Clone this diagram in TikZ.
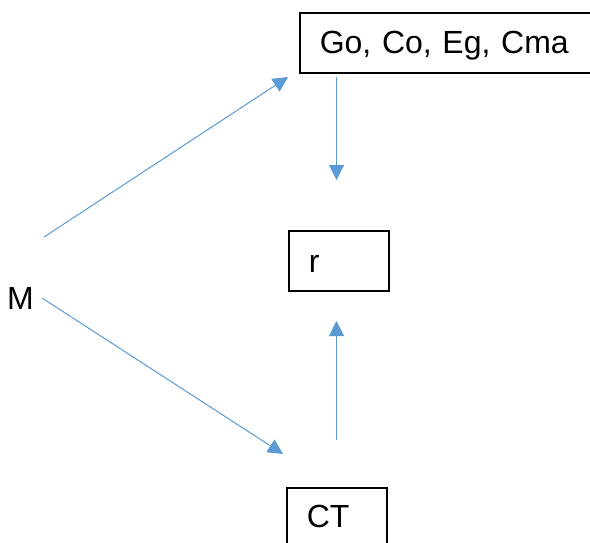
\documentclass[tikz,border=0pt]{standalone}
\usepackage{fontspec}
\setmainfont{Liberation Sans}
\usetikzlibrary{arrows.meta}
\definecolor{lineblue}{HTML}{5B9BD5}
\tikzset{
  box/.style={draw, line width=1.6pt, anchor=north west, inner xsep=20pt, inner ysep=0pt,
    align=left, minimum height=60pt, font=\fontsize{32}{38}\selectfont},
  label/.style={anchor=base west, inner sep=0pt, font=\fontsize{32}{38}\selectfont},
  arr/.style={draw=lineblue, line width=1pt, -{Triangle[length=15pt,width=15pt]}, color=lineblue}
}
\begin{document}
\begin{tikzpicture}[x=1pt,y=-1pt]
  \useasboundingbox (0,0) rectangle (590,542);
  % boxes
  \node[box, text width=330pt, text height=23pt, text depth=1pt] (gc) at (299,12) {Go, Co, Eg, Cma};
  \node[box, text width=60pt, text height=24pt, text depth=0pt] (r) at (288,230) {r};
  \node[box, text width=60pt, text height=21pt, text depth=1pt] (ct) at (286,487) {CT};
  \node[label] (m) at (7,309) {M};
  % arrow ends
  \coordinate (m1) at (44,237);
  \coordinate (gc1) at (288,77);
  \coordinate (m2) at (42,298);
  \coordinate (ct1) at (283,454);
  \coordinate (gc2) at (336.5,77);
  \coordinate (r1) at (336.5,180);
  \coordinate (ct2) at (336.5,440);
  \coordinate (r2) at (336.5,321);
  \draw[arr] (m1) -- (gc1);
  \draw[arr] (m2) -- (ct1);
  \draw[arr] (gc2) -- (r1);
  \draw[arr] (ct2) -- (r2);
\end{tikzpicture}
\end{document}
